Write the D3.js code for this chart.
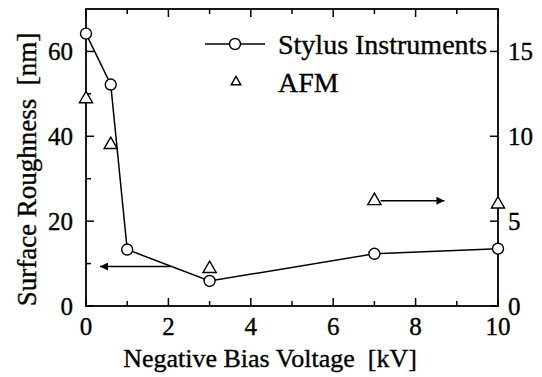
<!DOCTYPE html>
<html>
<head>
<meta charset="utf-8">
<script src="https://cdn.jsdelivr.net/npm/d3@7"></script>
<style>
  body { margin: 0; background: #fff; }
  svg { display: block; }
  text { stroke: #000; stroke-width: 0.35px; }
</style>
</head>
<body>
<svg id="plot" width="542" height="377"></svg>
<script>
// stylus instruments, read against the left axis (nm)
var stylusX = [0, 0.6, 1, 3, 7, 10];
var stylusY = [64.2, 52.2, 13.3, 5.9, 12.3, 13.5];
// AFM, read against the right axis (nm)
var afmX = [0, 0.6, 3, 7, 10];
var afmY = [12.2, 9.5, 2.2, 6.2, 6.0];

var xTicks = [0, 2, 4, 6, 8, 10];
var xMinor = [1, 3, 5, 7, 9];
var yLeftTicks = [0, 20, 40, 60];
var yLeftMinor = [10, 30, 50];
var yRightTicks = [0, 5, 10, 15];

var seriesNames = ["Stylus Instruments", "AFM"];

var serif = "'Liberation Serif', 'DejaVu Serif', 'Times New Roman', Times, serif";

var svg = d3.select("#plot");
var g = svg.append("g")
    .attr("font-family", serif)
    .style("font-family", serif);

// plot frame (note: "top" is reserved on window)
var pLeft = 86, pRight = 498, pTop = 9, pBottom = 306;

var xScale = d3.scaleLinear().domain([0, 10]).range([pLeft, pRight]);
var yLeft = d3.scaleLinear().domain([0, 70]).range([pBottom, pTop]);
var yRight = d3.scaleLinear().domain([0, 17.5]).range([pBottom, pTop]);

g.append("rect")
    .attr("x", pLeft).attr("y", pTop)
    .attr("width", pRight - pLeft).attr("height", pBottom - pTop)
    .attr("fill", "none").attr("stroke", "#000").attr("stroke-width", 1.8);

function ticks(vals, len, orient) {
    vals.forEach(function(v) {
        var l = g.append("line").attr("stroke", "#000").attr("stroke-width", 1.5);
        if (orient == "bottom") l.attr("x1", xScale(v)).attr("x2", xScale(v)).attr("y1", pBottom).attr("y2", pBottom - len);
        if (orient == "top") l.attr("x1", xScale(v)).attr("x2", xScale(v)).attr("y1", pTop).attr("y2", pTop + len);
        if (orient == "left") l.attr("x1", pLeft).attr("x2", pLeft + len).attr("y1", yLeft(v)).attr("y2", yLeft(v));
        if (orient == "right") l.attr("x1", pRight).attr("x2", pRight - len).attr("y1", yRight(v)).attr("y2", yRight(v));
    });
}
ticks(xTicks, 8, "bottom");
ticks(xMinor, 5, "bottom");
ticks(xTicks, 8, "top");
ticks(xMinor, 5, "top");
ticks(yLeftTicks, 8, "left");
ticks(yLeftMinor, 5, "left");
ticks(yRightTicks, 8, "right");

// tick labels
g.selectAll(".xl").data(xTicks).enter().append("text")
    .attr("x", function(d){ return xScale(d); })
    .attr("y", 335)
    .attr("text-anchor", "middle")
    .attr("font-size", 25)
    .text(function(d){ return d; });

g.selectAll(".yl").data(yLeftTicks).enter().append("text")
    .attr("x", 73)
    .attr("y", function(d){ return yLeft(d); })
    .attr("dy", "0.35em")
    .attr("text-anchor", "end")
    .attr("font-size", 25)
    .text(function(d){ return d; });

g.selectAll(".yr").data(yRightTicks).enter().append("text")
    .attr("x", 508)
    .attr("y", function(d){ return yRight(d); })
    .attr("dy", "0.35em")
    .attr("text-anchor", "start")
    .attr("font-size", 25)
    .text(function(d){ return d; });

// axis titles
g.append("text")
    .attr("x", (pLeft + pRight) / 2 - 22)
    .attr("y", 367)
    .attr("text-anchor", "middle")
    .attr("font-size", 26)
    .attr("xml:space", "preserve")
    .text("Negative Bias Voltage  [kV]");

g.append("text")
    .attr("transform", "translate(36," + ((pTop + pBottom) / 2 + 12) + ") rotate(-90)")
    .attr("text-anchor", "middle")
    .attr("font-size", 27)
    .attr("xml:space", "preserve")
    .text("Surface Roughness  [nm]");

// stylus line + circles
var pts = stylusX.map(function(x, i){ return [x, stylusY[i]]; });
var line = d3.line()
    .x(function(d){ return xScale(d[0]); })
    .y(function(d){ return yLeft(d[1]); });

g.append("path")
    .datum(pts)
    .attr("fill", "none")
    .attr("stroke", "#000")
    .attr("stroke-width", 1.5)
    .attr("d", line);

g.selectAll(".st").data(pts).enter().append("circle")
    .attr("cx", function(d){ return xScale(d[0]); })
    .attr("cy", function(d){ return yLeft(d[1]); })
    .attr("r", 5.5)
    .attr("fill", "#fff")
    .attr("stroke", "#000")
    .attr("stroke-width", 1.4);

// AFM triangles
var tri = d3.symbol().type(d3.symbolTriangle).size(75);
g.selectAll(".afm").data(afmX).enter().append("path")
    .attr("transform", function(d, i){ return "translate(" + xScale(d) + "," + yRight(afmY[i]) + ")"; })
    .attr("d", tri)
    .attr("fill", "#fff")
    .attr("stroke", "#000")
    .attr("stroke-width", 1.4);

// arrows pointing to the axis each series belongs to
svg.append("defs").append("marker")
    .attr("id", "head")
    .attr("viewBox", "0 0 10 10")
    .attr("refX", 10).attr("refY", 5)
    .attr("markerUnits", "userSpaceOnUse")
    .attr("markerWidth", 16).attr("markerHeight", 8)
    .attr("orient", "auto")
    .append("path").attr("d", "M0,0L10,5L0,10Z").attr("fill", "#000");

g.append("line")
    .attr("x1", xScale(2.05)).attr("y1", yLeft(9.3))
    .attr("x2", xScale(0.34)).attr("y2", yLeft(9.3))
    .attr("stroke", "#000").attr("stroke-width", 1.5)
    .attr("marker-end", "url(#head)");

g.append("line")
    .attr("x1", xScale(7.15)).attr("y1", yRight(6.2))
    .attr("x2", xScale(8.7)).attr("y2", yRight(6.2))
    .attr("stroke", "#000").attr("stroke-width", 1.5)
    .attr("marker-end", "url(#head)");

// legend
var lg = g.append("g");
lg.append("line").attr("x1", 205).attr("x2", 265).attr("y1", 44).attr("y2", 44)
    .attr("stroke", "#000").attr("stroke-width", 1.4);
lg.append("circle").attr("cx", 235).attr("cy", 44).attr("r", 5.5)
    .attr("fill", "#fff").attr("stroke", "#000").attr("stroke-width", 1.4);
lg.append("path").attr("transform", "translate(236,82)")
    .attr("d", d3.symbol().type(d3.symbolTriangle).size(40))
    .attr("fill", "#fff").attr("stroke", "#000").attr("stroke-width", 1.4);
lg.selectAll(".lt").data(seriesNames).enter().append("text")
    .attr("x", 278)
    .attr("y", function(d, i){ return 54 + i * 38; })
    .attr("font-size", 28)
    .text(function(d){ return d; });
</script>
</body>
</html>
